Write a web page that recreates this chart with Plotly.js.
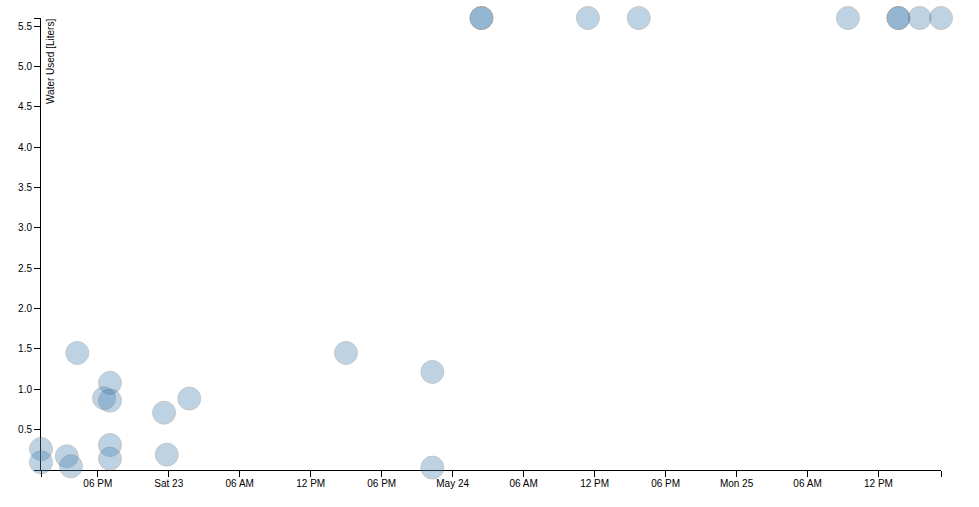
<!DOCTYPE html>
<html>
<head>
<meta charset="utf-8">
<script src="https://cdn.plot.ly/plotly-3.0.1.min.js"></script>
<style>
  html, body { margin: 0; padding: 0; background: #fff; }
  #chart { width: 979px; height: 507px; }
</style>
</head>
<body>
<div id="chart"></div>
<script>
// Observation times and water used (liters)
const times = [
  '2015-05-22 13:12', '2015-05-22 13:12', '2015-05-22 15:23', '2015-05-22 15:44',
  '2015-05-22 16:16', '2015-05-22 18:32', '2015-05-22 19:02', '2015-05-22 19:02',
  '2015-05-22 19:02', '2015-05-22 19:02', '2015-05-22 23:36', '2015-05-22 23:50',
  '2015-05-23 01:44', '2015-05-23 14:59', '2015-05-23 22:17', '2015-05-23 22:17',
  '2015-05-24 02:26', '2015-05-24 02:26', '2015-05-24 11:26', '2015-05-24 15:44',
  '2015-05-25 09:25', '2015-05-25 13:41', '2015-05-25 13:41', '2015-05-25 15:29',
  '2015-05-25 17:17'
];
const waterUsed = [
  0.26, 0.095, 0.17, 0.046,
  1.45, 0.89, 1.08, 0.86,
  0.31, 0.14, 0.71, 0.19,
  0.885, 1.45, 1.215, 0.03,
  5.6, 5.6, 5.6, 5.6,
  5.6, 5.6, 5.6, 5.6,
  5.6
];

// X axis ticks
const xStart = '2015-05-22 13:12';
const xEnd = '2015-05-25 17:17';
const xTickVals = [
  '2015-05-22 18:00', '2015-05-23 00:00', '2015-05-23 06:00', '2015-05-23 12:00',
  '2015-05-23 18:00', '2015-05-24 00:00', '2015-05-24 06:00', '2015-05-24 12:00',
  '2015-05-24 18:00', '2015-05-25 00:00', '2015-05-25 06:00', '2015-05-25 12:00'
];
const xTickText = [
  '06 PM', 'Sat 23', '06 AM', '12 PM',
  '06 PM', 'May 24', '06 AM', '12 PM',
  '06 PM', 'Mon 25', '06 AM', '12 PM'
];

// Y axis ticks
const yMax = 5.6;
const yTickVals = [0.5, 1.0, 1.5, 2.0, 2.5, 3.0, 3.5, 4.0, 4.5, 5.0, 5.5];
const yTickText = ['0.5', '1.0', '1.5', '2.0', '2.5', '3.0', '3.5', '4.0', '4.5', '5.0', '5.5'];
const yTitle = 'Water Used [Liters]';

const font = { family: '"Liberation Sans", Arial, Helvetica, sans-serif', size: 10, color: '#000' };

const trace = {
  type: 'scatter',
  mode: 'markers',
  x: times,
  y: waterUsed,
  cliponaxis: false,
  hoverinfo: 'none',
  marker: {
    size: 23,
    color: 'steelblue',
    opacity: 0.35,
    line: { color: 'rgb(95,95,95)', width: 1 }
  }
};

const layout = {
  width: 979,
  height: 507,
  margin: { l: 41, r: 38, t: 18, b: 37, pad: 0 },
  paper_bgcolor: '#fff',
  plot_bgcolor: '#fff',
  showlegend: false,
  font: font,
  xaxis: {
    type: 'date',
    range: [xStart, xEnd],
    tickmode: 'array',
    tickvals: [xStart].concat(xTickVals, [xEnd]),
    ticktext: [''].concat(xTickText, ['']),
    ticks: 'outside',
    ticklen: 6,
    tickwidth: 1,
    tickcolor: '#000',
    ticklabelstandoff: -2,
    showline: true,
    linecolor: '#000',
    linewidth: 1,
    showgrid: false,
    zeroline: false,
    layer: 'below traces',
    tickfont: font,
    fixedrange: true
  },
  yaxis: {
    range: [0, yMax],
    tickmode: 'array',
    tickvals: [0].concat(yTickVals, [yMax]),
    ticktext: [''].concat(yTickText, ['']),
    ticks: 'outside',
    ticklen: 6,
    tickwidth: 1,
    tickcolor: '#000',
    showline: true,
    linecolor: '#000',
    linewidth: 1,
    showgrid: false,
    zeroline: false,
    layer: 'below traces',
    tickfont: font,
    fixedrange: true
  },
  annotations: [{
    text: yTitle,
    xref: 'paper', yref: 'paper',
    x: 0, y: 1,
    xanchor: 'center', yanchor: 'top',
    xshift: 9.5, yshift: 1,
    textangle: -90,
    showarrow: false,
    font: font
  }]
};

Plotly.newPlot('chart', [trace], layout, { displayModeBar: false, staticPlot: true });
</script>
</body>
</html>
